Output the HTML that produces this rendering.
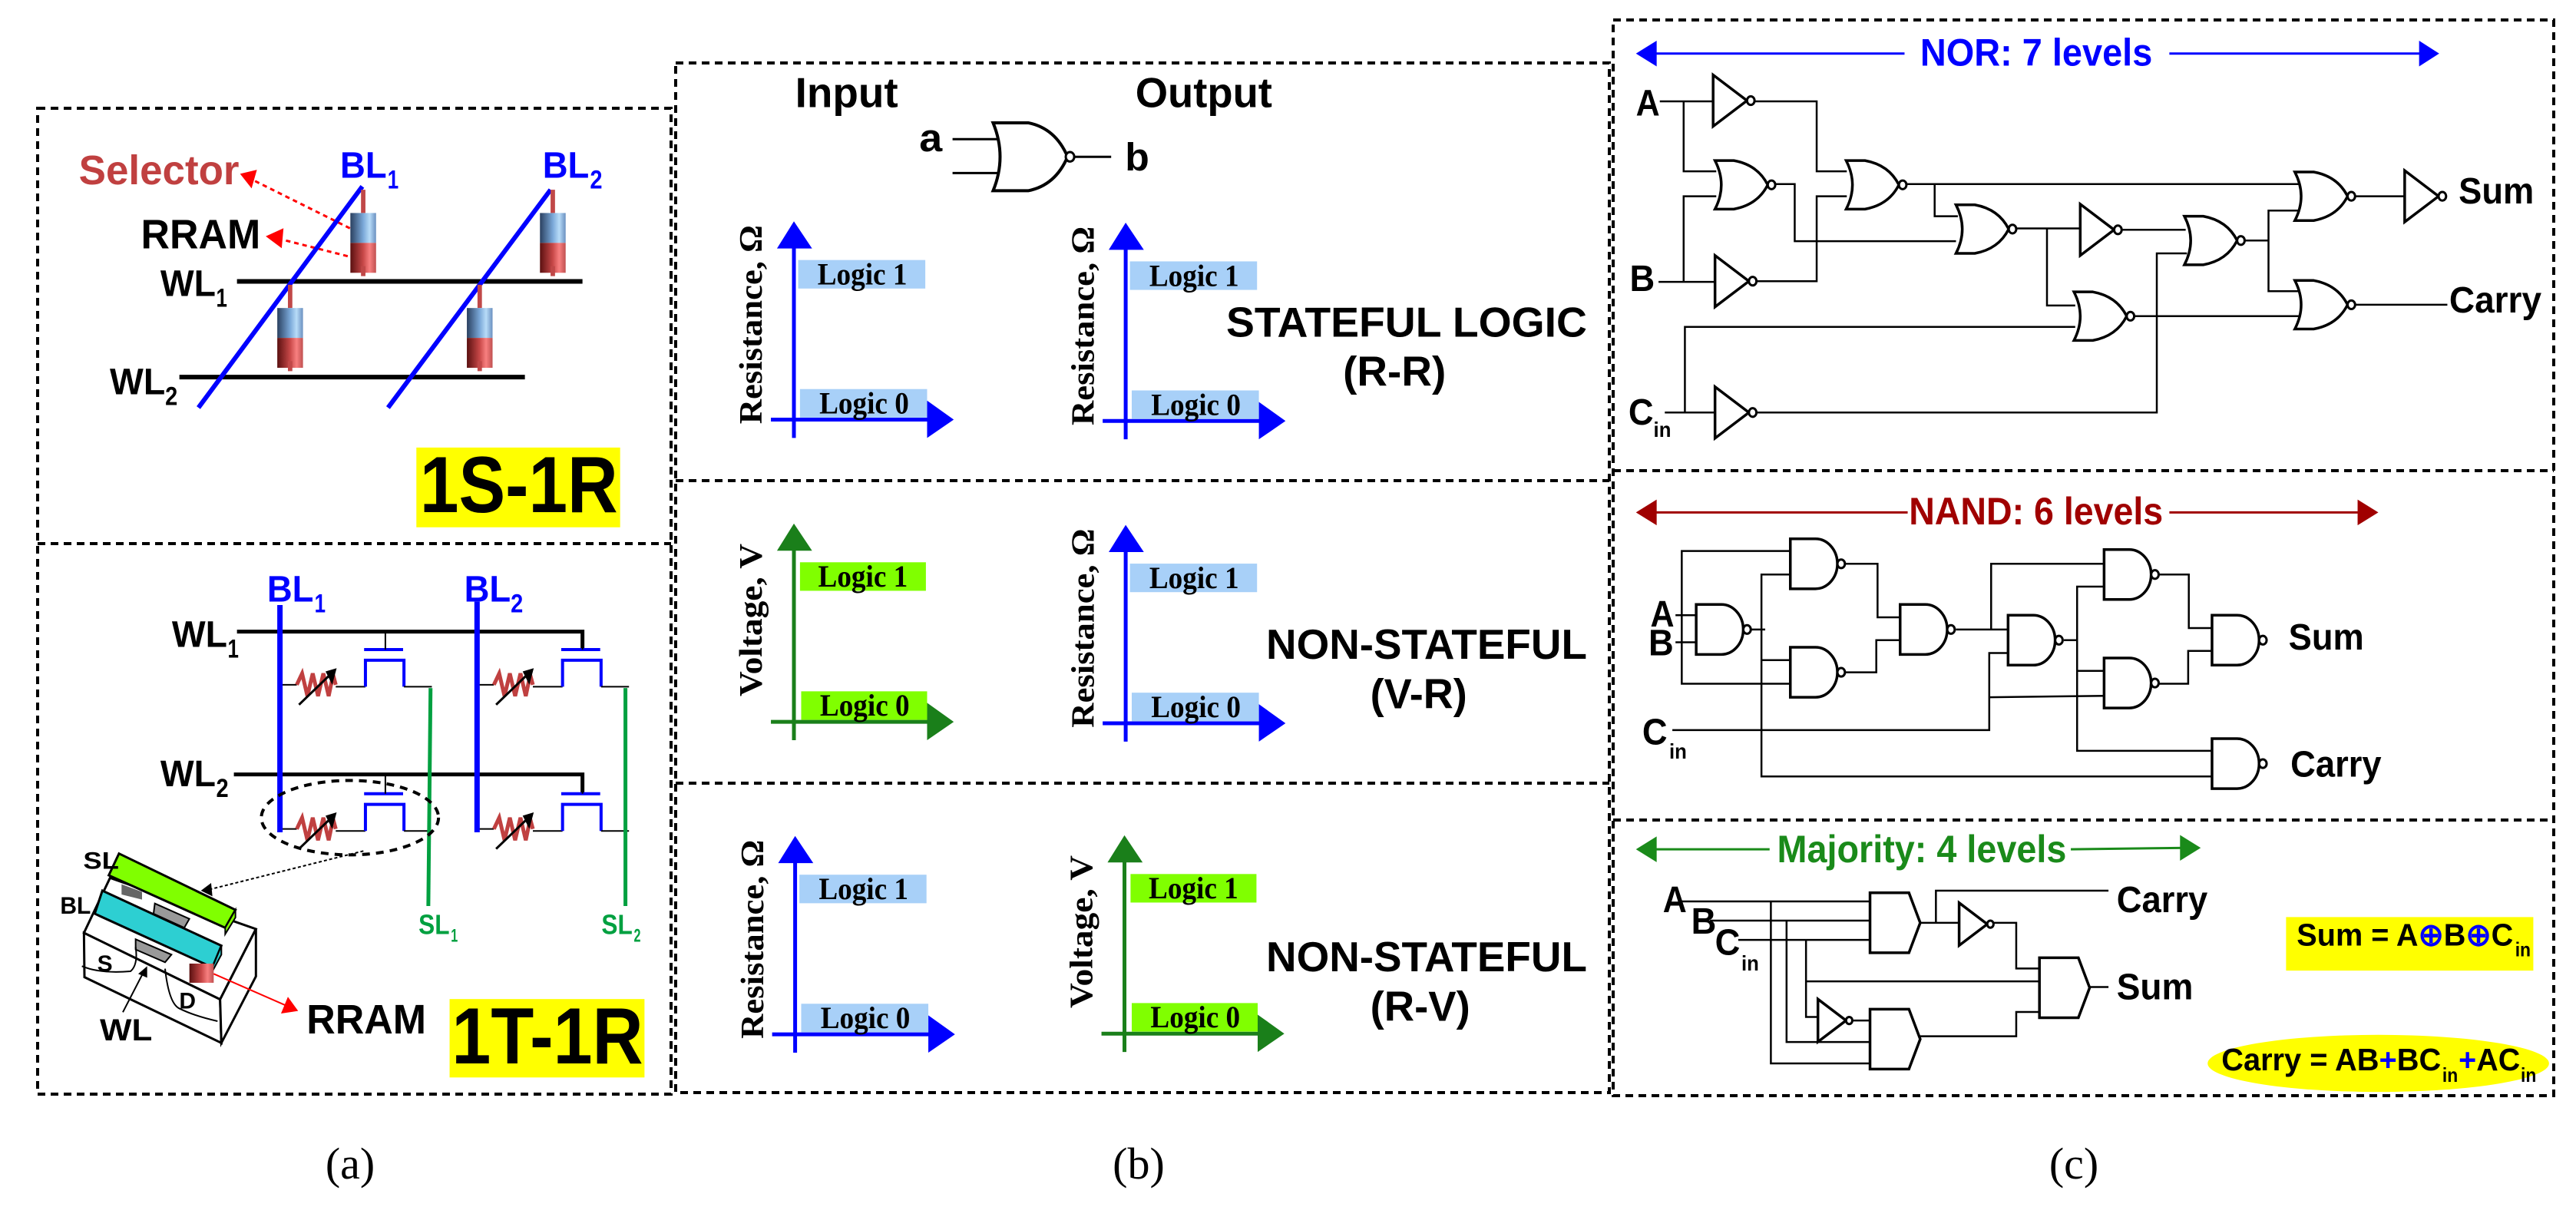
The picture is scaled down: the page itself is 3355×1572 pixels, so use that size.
<!DOCTYPE html>
<html><head><meta charset="utf-8"><style>
html,body{margin:0;padding:0;background:#fff}
svg{display:block}
svg line,svg path,svg polyline,svg polygon,svg rect,svg circle,svg ellipse{vector-effect:non-scaling-stroke}
.s{font-family:"Liberation Sans",sans-serif;font-weight:bold}
.r{font-family:"Liberation Serif",serif;font-weight:bold}
</style></head><body>
<svg width="3355" height="1572" viewBox="0 0 3355 1572" xmlns="http://www.w3.org/2000/svg">
<defs>
<linearGradient id="gb" x1="0" x2="1"><stop offset="0" stop-color="#2a4060"/><stop offset="0.5" stop-color="#7aa8d8"/><stop offset="0.75" stop-color="#b8dcf8"/><stop offset="1" stop-color="#6a90c0"/></linearGradient>
<linearGradient id="gr" x1="0" x2="1"><stop offset="0" stop-color="#5a1010"/><stop offset="0.5" stop-color="#c84848"/><stop offset="0.75" stop-color="#f88080"/><stop offset="1" stop-color="#c05050"/></linearGradient>
<g id="nor"><path d="M0,0 Q20,34 0,68 L30,68 Q68,62 84,34 Q68,6 30,0 Z" fill="#fff" stroke="#000" stroke-width="3.5"/><circle cx="90" cy="34" r="6" fill="#fff" stroke="#000" stroke-width="3"/></g>
<g id="not"><path d="M0,0 L0,72 L54,36 Z" fill="#fff" stroke="#000" stroke-width="3.5"/><circle cx="60" cy="36" r="6" fill="#fff" stroke="#000" stroke-width="3"/></g>
<g id="nand"><path d="M0,0 L40,0 A35,35 0 0 1 40,70 L0,70 Z" fill="#fff" stroke="#000" stroke-width="3.5"/><circle cx="81" cy="35" r="6" fill="#fff" stroke="#000" stroke-width="3"/></g>
<g id="maj"><path d="M0,0 L62,0 L80,42 L62,84 L0,84 Z" fill="#fff" stroke="#000" stroke-width="3.5"/></g>
<g id="cyl"><rect x="-5" y="-35" width="10" height="35" fill="#c04848"/><rect x="-29" y="0" width="58" height="45" fill="url(#gb)"/><rect x="-29" y="45" width="58" height="45" fill="url(#gr)"/><rect x="-5" y="80" width="10" height="15" fill="#c04848"/></g>
</defs>

<!-- borders -->
<g fill="none" stroke="#000" stroke-width="4" stroke-dasharray="10,7">
<rect x="49" y="141" width="825" height="1284"/>
<line x1="49" y1="708" x2="874" y2="708"/>
<rect x="880" y="82" width="1216" height="1341"/>
<line x1="880" y1="626" x2="2096" y2="626"/>
<line x1="880" y1="1020" x2="2096" y2="1020"/>
<rect x="2101" y="26" width="1225" height="1401"/>
<line x1="2101" y1="613" x2="3326" y2="613"/>
<line x1="2101" y1="1068" x2="3326" y2="1068"/>
</g>

<!-- PANEL A -->
<g transform="translate(0,100) scale(0.5769,0.8654)">
<text x="178" y="162" class="s" font-size="62" fill="#c04040" textLength="362" lengthAdjust="spacingAndGlyphs">Selector</text>
<text x="318" y="258" class="s" font-size="62" fill="#000" textLength="270" lengthAdjust="spacingAndGlyphs">RRAM</text>
<g fill="none" stroke="#f00" stroke-width="3" stroke-dasharray="6,5"><line x1="790" y1="228" x2="570" y2="155"/><line x1="785" y1="270" x2="625" y2="243"/></g>
<polygon points="542,146 580,140 568,168" fill="#f00"/><polygon points="600,240 640,228 636,258" fill="#f00"/>
<text x="768" y="152" class="s" font-size="56" fill="#00f" textLength="105" lengthAdjust="spacingAndGlyphs">BL</text><text x="875" y="168" class="s" font-size="40" fill="#00f" textLength="25" lengthAdjust="spacingAndGlyphs">1</text>
<text x="1225" y="152" class="s" font-size="56" fill="#00f" textLength="105" lengthAdjust="spacingAndGlyphs">BL</text><text x="1332" y="168" class="s" font-size="40" fill="#00f" textLength="28" lengthAdjust="spacingAndGlyphs">2</text>
<text x="362" y="330" class="s" font-size="56" textLength="125" lengthAdjust="spacingAndGlyphs">WL</text><text x="488" y="346" class="s" font-size="40" textLength="25" lengthAdjust="spacingAndGlyphs">1</text>
<text x="248" y="478" class="s" font-size="56" textLength="125" lengthAdjust="spacingAndGlyphs">WL</text><text x="373" y="494" class="s" font-size="40" textLength="28" lengthAdjust="spacingAndGlyphs">2</text>
<line x1="535" y1="308" x2="1315" y2="308" stroke="#000" stroke-width="6"/>
<line x1="405" y1="452" x2="1185" y2="452" stroke="#000" stroke-width="6"/>
<line x1="448" y1="498" x2="818" y2="165" stroke="#00f" stroke-width="6"/>
<line x1="876" y1="498" x2="1243" y2="170" stroke="#00f" stroke-width="6"/>
<use href="#cyl" transform="translate(820,205)"/><use href="#cyl" transform="translate(1248,205)"/>
<use href="#cyl" transform="translate(655,348)"/><use href="#cyl" transform="translate(1083,348)"/>
<rect x="940" y="558" width="460" height="120" fill="#ff0"/>
<text x="948" y="655" class="s" font-size="120" textLength="447" lengthAdjust="spacingAndGlyphs">1S-1R</text>

<text x="603" y="790" class="s" font-size="56" fill="#00f" textLength="105" lengthAdjust="spacingAndGlyphs">BL</text><text x="710" y="806" class="s" font-size="40" fill="#00f" textLength="25" lengthAdjust="spacingAndGlyphs">1</text>
<text x="1048" y="790" class="s" font-size="56" fill="#00f" textLength="105" lengthAdjust="spacingAndGlyphs">BL</text><text x="1153" y="806" class="s" font-size="40" fill="#00f" textLength="28" lengthAdjust="spacingAndGlyphs">2</text>
<text x="388" y="858" class="s" font-size="56" textLength="125" lengthAdjust="spacingAndGlyphs">WL</text><text x="514" y="874" class="s" font-size="40" textLength="25" lengthAdjust="spacingAndGlyphs">1</text>
<text x="362" y="1068" class="s" font-size="56" textLength="125" lengthAdjust="spacingAndGlyphs">WL</text><text x="488" y="1084" class="s" font-size="40" textLength="28" lengthAdjust="spacingAndGlyphs">2</text>
<polyline points="535,835 1315,835 1315,862" fill="none" stroke="#000" stroke-width="5"/>
<polyline points="528,1050 1315,1050 1315,1080" fill="none" stroke="#000" stroke-width="5"/>
<g id="cell">
<polyline points="632,915 670,915" fill="none" stroke="#000" stroke-width="2"/>
<polyline points="670,915 682,898 694,932 706,898 718,932 730,898 742,932 752,900 758,915" fill="none" stroke="#c04040" stroke-width="5"/>
<line x1="758" y1="918" x2="825" y2="918" stroke="#000" stroke-width="2"/>
<polyline points="825,918 825,878 912,878 912,918" fill="none" stroke="#00f" stroke-width="4"/>
<line x1="822" y1="862" x2="910" y2="862" stroke="#00f" stroke-width="4"/>
<line x1="870" y1="862" x2="870" y2="835" stroke="#000" stroke-width="2"/>
<line x1="912" y1="918" x2="975" y2="918" stroke="#000" stroke-width="2"/>
<line x1="675" y1="945" x2="745" y2="900" stroke="#000" stroke-width="3"/>
<polygon points="760,890 735,895 750,915" fill="#000"/>
</g>
<use href="#cell" transform="translate(0,217)"/>
<use href="#cell" transform="translate(445,0)"/>
<use href="#cell" transform="translate(445,217)"/>
<line x1="632" y1="795" x2="632" y2="1137" stroke="#00f" stroke-width="7"/>
<line x1="1077" y1="790" x2="1077" y2="1137" stroke="#00f" stroke-width="7"/>
<line x1="972" y1="920" x2="967" y2="1248" stroke="#00a040" stroke-width="5"/>
<line x1="1412" y1="920" x2="1412" y2="1248" stroke="#00a040" stroke-width="5"/>
<text x="945" y="1290" class="s" font-size="42" fill="#00a040" textLength="70" lengthAdjust="spacingAndGlyphs">SL</text><text x="1018" y="1302" class="s" font-size="28" fill="#00a040">1</text>
<text x="1358" y="1290" class="s" font-size="42" fill="#00a040" textLength="70" lengthAdjust="spacingAndGlyphs">SL</text><text x="1431" y="1302" class="s" font-size="28" fill="#00a040">2</text>
<ellipse cx="790" cy="1115" rx="200" ry="56" fill="none" stroke="#000" stroke-width="4" stroke-dasharray="10,8"/>
<text x="692" y="1440" class="s" font-size="62" textLength="270" lengthAdjust="spacingAndGlyphs">RRAM</text>
<rect x="1015" y="1388" width="440" height="118" fill="#ff0"/>
<text x="1020" y="1485" class="s" font-size="120" textLength="432" lengthAdjust="spacingAndGlyphs">1T-1R</text>
</g>

<!-- 3D device -->
<g transform="translate(80,1080) scale(0.3333)">
<polygon points="88,405 190,190 760,390 620,665" fill="#fff" stroke="#000" stroke-width="3"/>
<polygon points="88,405 620,665 625,835 90,578" fill="#fff" stroke="#000" stroke-width="3"/>
<polygon points="620,665 760,390 760,575 625,835" fill="#fff" stroke="#000" stroke-width="3"/>
<polygon points="235,215 315,245 315,275 235,255" fill="#666"/>
<polygon points="365,290 500,350 480,385 360,330" fill="#999" stroke="#000" stroke-width="2"/>
<polygon points="290,430 430,490 405,520 290,470" fill="#999" stroke="#000" stroke-width="2"/>
<polygon points="225,95 680,315 640,385 185,180" fill="#80ff00" stroke="#000" stroke-width="3"/>
<polygon points="680,315 680,345 640,410 640,385" fill="#80ff00" stroke="#000" stroke-width="2"/>
<polygon points="160,240 625,455 590,540 130,330" fill="#2dcfd2" stroke="#000" stroke-width="3"/>
<polygon points="625,455 625,490 590,555 590,540" fill="#2dcfd2" stroke="#000" stroke-width="2"/>
<path d="M80,535 Q150,565 270,555 Q300,530 290,460" fill="none" stroke="#000" stroke-width="2"/>
<path d="M405,545 Q420,680 460,700 Q520,730 610,750" fill="none" stroke="#000" stroke-width="2"/>
<rect x="500" y="525" width="95" height="75" fill="url(#gr)"/>
<line x1="240" y1="715" x2="320" y2="560" stroke="#000" stroke-width="2"/><polygon points="335,535 300,565 335,580" fill="#000"/>
<line x1="595" y1="565" x2="880" y2="690" stroke="#f00" stroke-width="2"/><polygon points="925,710 858,720 885,655" fill="#f00"/>
<line x1="1180" y1="85" x2="580" y2="235" stroke="#000" stroke-width="2" stroke-dasharray="4,3"/><polygon points="545,240 585,210 590,262" fill="#000"/>
<text x="85" y="155" class="s" font-size="95" textLength="140" lengthAdjust="spacingAndGlyphs">SL</text>
<text x="-5" y="330" class="s" font-size="95" textLength="120" lengthAdjust="spacingAndGlyphs">BL</text>
<text x="140" y="555" class="s" font-size="90">S</text>
<text x="460" y="700" class="s" font-size="90">D</text>
<text x="150" y="825" class="s" font-size="120" textLength="205" lengthAdjust="spacingAndGlyphs">WL</text>
</g>

<!-- PANEL B -->
<g transform="translate(870,60) scale(0.7885,0.8846)">
<text x="210" y="90" class="s" font-size="62" textLength="170" lengthAdjust="spacingAndGlyphs">Input</text>
<text x="772" y="90" class="s" font-size="62" textLength="226" lengthAdjust="spacingAndGlyphs">Output</text>
<line x1="470" y1="137" x2="545" y2="137" stroke="#000" stroke-width="3"/>
<line x1="470" y1="187" x2="545" y2="187" stroke="#000" stroke-width="3"/>
<path d="M537,113 Q560,163 537,213 L595,213 Q640,205 660,163 Q640,121 595,113 Z" fill="#fff" stroke="#000" stroke-width="4"/>
<circle cx="664" cy="163" r="7" fill="#fff" stroke="#000" stroke-width="3"/>
<line x1="671" y1="163" x2="732" y2="163" stroke="#000" stroke-width="3"/>
<text x="415" y="155" class="s" font-size="58" textLength="38" lengthAdjust="spacingAndGlyphs">a</text><text x="755" y="183" class="s" font-size="58" textLength="40" lengthAdjust="spacingAndGlyphs">b</text>

<g id="chB">
<line x1="208" y1="577" x2="208" y2="295" stroke="#00f" stroke-width="5"/>
<polygon points="180,298 208,258 238,298" fill="#00f"/>
<line x1="170" y1="550" x2="430" y2="550" stroke="#00f" stroke-width="5"/>
<polygon points="428,522 472,550 428,577" fill="#00f"/>
<rect x="215" y="315" width="210" height="42" fill="#a8d0f8"/>
<text x="247" y="351" class="r" font-size="46" textLength="148" lengthAdjust="spacingAndGlyphs">Logic 1</text>
<rect x="218" y="505" width="210" height="42" fill="#a8d0f8"/>
<text x="250" y="541" class="r" font-size="46" textLength="148" lengthAdjust="spacingAndGlyphs">Logic 0</text>
<text transform="translate(155,410) rotate(-90)" class="r" font-size="54" text-anchor="middle" textLength="293" lengthAdjust="spacingAndGlyphs">Resistance, Ω</text>
</g>
<use href="#chB" transform="translate(548,2)"/>
<use href="#chB" transform="translate(548,447)"/>
<use href="#chB" transform="translate(2,905)"/>
<g id="chG" transform="translate(0,445)">
<line x1="208" y1="577" x2="208" y2="295" stroke="#1a7f1a" stroke-width="5"/>
<polygon points="180,298 208,258 238,298" fill="#1a7f1a"/>
<line x1="170" y1="550" x2="430" y2="550" stroke="#1a7f1a" stroke-width="5"/>
<polygon points="428,522 472,550 428,577" fill="#1a7f1a"/>
<rect x="218" y="315" width="208" height="42" fill="#80ff00"/>
<text x="248" y="351" class="r" font-size="46" textLength="148" lengthAdjust="spacingAndGlyphs">Logic 1</text>
<rect x="220" y="505" width="208" height="42" fill="#80ff00"/>
<text x="251" y="541" class="r" font-size="46" textLength="148" lengthAdjust="spacingAndGlyphs">Logic 0</text>
<text transform="translate(155,400) rotate(-90)" class="r" font-size="54" text-anchor="middle" textLength="225" lengthAdjust="spacingAndGlyphs">Voltage, V</text>
</g>
<use href="#chG" transform="translate(546,459)"/>
<text x="922" y="428" class="s" font-size="62" textLength="596" lengthAdjust="spacingAndGlyphs">STATEFUL LOGIC</text>
<text x="1115" y="500" class="s" font-size="62" textLength="170" lengthAdjust="spacingAndGlyphs">(R-R)</text>
<text x="988" y="902" class="s" font-size="62" textLength="530" lengthAdjust="spacingAndGlyphs">NON-STATEFUL</text>
<text x="1160" y="975" class="s" font-size="62" textLength="160" lengthAdjust="spacingAndGlyphs">(V-R)</text>
<text x="988" y="1362" class="s" font-size="62" textLength="530" lengthAdjust="spacingAndGlyphs">NON-STATEFUL</text>
<text x="1160" y="1435" class="s" font-size="62" textLength="165" lengthAdjust="spacingAndGlyphs">(R-V)</text>
</g>

<!-- PANEL C -->
<g transform="translate(2080,0) scale(0.8173,0.9295)">
<g fill="none" stroke="#000" stroke-width="2.5">
<polyline points="100,142 185,142"/><polyline points="250,142 350,142 350,240 398,240"/>
<polyline points="138,142 138,240 190,240"/><polyline points="138,395 138,275 190,275"/>
<polyline points="98,395 188,395"/><polyline points="250,394 350,394 350,275 398,275"/>
<polyline points="285,258 315,258 315,338 572,338"/>
<polyline points="492,258 1118,258"/><polyline points="538,258 538,303 575,303"/>
<polyline points="667,320 770,320"/><polyline points="717,320 717,428 762,428"/>
<polyline points="833,322 938,322"/>
<polyline points="108,578 188,578"/><polyline points="140,578 140,458 762,458"/>
<polyline points="252,578 892,578 892,355 940,355"/>
<polyline points="855,443 1118,443"/>
<polyline points="1032,337 1070,337"/><polyline points="1118,295 1070,295 1070,408 1118,408"/>
<polyline points="1206,275 1287,275"/><polyline points="1206,427 1355,427"/>
<polyline points="125,862 160,862"/><polyline points="125,900 160,900"/>
<polyline points="310,772 135,772 135,958 310,958"/>
<polyline points="244,882 268,882"/>
<polyline points="310,805 262,805 262,1088 982,1088"/><polyline points="262,925 310,925"/>
<polyline points="396,790 447,790 447,865 485,865"/><polyline points="396,942 445,942 445,897 485,897"/>
<polyline points="572,882 657,882"/><polyline points="628,882 628,790 810,790"/>
<polyline points="120,1023 625,1023 625,915 657,915"/><polyline points="625,977 810,975"/>
<polyline points="744,897 765,897"/><polyline points="810,822 765,822 765,1052 982,1052"/><polyline points="765,940 810,940"/>
<polyline points="892,805 943,805 943,880 982,880"/><polyline points="892,958 942,958 942,912 982,912"/>
<polyline points="135,1263 437,1263"/><polyline points="180,1290 437,1290"/><polyline points="225,1317 437,1317"/>
<polyline points="277,1263 277,1490 437,1490"/><polyline points="302,1290 302,1460 437,1460"/>
<polyline points="333,1317 333,1425 352,1425"/><polyline points="333,1375 707,1375"/>
<polyline points="515,1293 577,1293"/><polyline points="540,1293 540,1248 815,1248"/>
<polyline points="630,1293 668,1293 668,1357 707,1357"/>
<polyline points="404,1430 437,1430"/><polyline points="515,1452 668,1452 668,1418 707,1418"/>
<polyline points="782,1383 815,1383"/>
</g>
<use href="#not" transform="translate(185,105)"/>
<use href="#nor" transform="translate(188,225)"/>
<use href="#not" transform="translate(188,358)"/>
<use href="#nor" transform="translate(397,225)"/>
<use href="#nor" transform="translate(572,287)"/>
<use href="#not" transform="translate(770,286)"/>
<use href="#nor" transform="translate(760,409)"/>
<use href="#not" transform="translate(188,542)"/>
<use href="#nor" transform="translate(936,303)"/>
<use href="#nor" transform="translate(1112,241)"/>
<use href="#not" transform="translate(1287,239)"/>
<use href="#nor" transform="translate(1112,393)"/>
<use href="#nand" transform="translate(158,847)"/>
<use href="#nand" transform="translate(308,755)"/>
<use href="#nand" transform="translate(308,907)"/>
<use href="#nand" transform="translate(483,847)"/>
<use href="#nand" transform="translate(655,862)"/>
<use href="#nand" transform="translate(808,770)"/>
<use href="#nand" transform="translate(808,922)"/>
<use href="#nand" transform="translate(980,862)"/>
<use href="#nand" transform="translate(980,1035)"/>
<use href="#maj" transform="translate(435,1251)"/>
<use href="#maj" transform="translate(435,1414)"/>
<use href="#maj" transform="translate(705,1342)"/>
<g transform="translate(577,1265) scale(0.83,0.83)"><use href="#not"/></g>
<g transform="translate(352,1400) scale(0.83,0.83)"><use href="#not"/></g>

<line x1="80" y1="75" x2="490" y2="75" stroke="#00f" stroke-width="3"/><polygon points="62,75 95,57 95,93" fill="#00f"/>
<line x1="912" y1="75" x2="1320" y2="75" stroke="#00f" stroke-width="3"/><polygon points="1342,75 1310,57 1310,93" fill="#00f"/>
<text x="515" y="92" class="s" font-size="54" fill="#00f" textLength="370" lengthAdjust="spacingAndGlyphs">NOR: 7 levels</text>
<line x1="80" y1="718" x2="495" y2="718" stroke="#a00000" stroke-width="3"/><polygon points="62,718 95,700 95,736" fill="#a00000"/>
<line x1="912" y1="718" x2="1225" y2="718" stroke="#a00000" stroke-width="3"/><polygon points="1245,718 1212,700 1212,736" fill="#a00000"/>
<text x="497" y="735" class="s" font-size="54" fill="#a00000" textLength="405" lengthAdjust="spacingAndGlyphs">NAND: 6 levels</text>
<line x1="80" y1="1190" x2="275" y2="1190" stroke="#1a8a1a" stroke-width="3"/><polygon points="62,1190 95,1172 95,1208" fill="#1a8a1a"/>
<line x1="755" y1="1190" x2="940" y2="1188" stroke="#1a8a1a" stroke-width="3"/><polygon points="962,1188 929,1170 929,1206" fill="#1a8a1a"/>
<text x="287" y="1208" class="s" font-size="54" fill="#1a8a1a" textLength="461" lengthAdjust="spacingAndGlyphs">Majority: 4 levels</text>

<g class="s" font-size="52">
<text x="62" y="162" textLength="38" lengthAdjust="spacingAndGlyphs">A</text><text x="52" y="408" textLength="40" lengthAdjust="spacingAndGlyphs">B</text><text x="50" y="595" textLength="40" lengthAdjust="spacingAndGlyphs">C</text><text x="90" y="612" font-size="30" textLength="28" lengthAdjust="spacingAndGlyphs">in</text>
<text x="1373" y="285" textLength="120" lengthAdjust="spacingAndGlyphs">Sum</text><text x="1358" y="438" textLength="147" lengthAdjust="spacingAndGlyphs">Carry</text>
<text x="85" y="878" textLength="38" lengthAdjust="spacingAndGlyphs">A</text><text x="82" y="918" textLength="40" lengthAdjust="spacingAndGlyphs">B</text><text x="72" y="1043" textLength="40" lengthAdjust="spacingAndGlyphs">C</text><text x="115" y="1063" font-size="30" textLength="28" lengthAdjust="spacingAndGlyphs">in</text>
<text x="1102" y="910" textLength="120" lengthAdjust="spacingAndGlyphs">Sum</text><text x="1105" y="1088" textLength="145" lengthAdjust="spacingAndGlyphs">Carry</text>
<text x="105" y="1278" textLength="38" lengthAdjust="spacingAndGlyphs">A</text><text x="150" y="1308" textLength="40" lengthAdjust="spacingAndGlyphs">B</text><text x="188" y="1338" textLength="40" lengthAdjust="spacingAndGlyphs">C</text><text x="230" y="1360" font-size="30" textLength="28" lengthAdjust="spacingAndGlyphs">in</text>
<text x="828" y="1278" textLength="145" lengthAdjust="spacingAndGlyphs">Carry</text><text x="828" y="1400" textLength="122" lengthAdjust="spacingAndGlyphs">Sum</text>
</g>
<rect x="1098" y="1285" width="394" height="75" fill="#ff0"/>
<text x="1115" y="1325" class="s" font-size="44" textLength="345" lengthAdjust="spacingAndGlyphs">Sum = A<tspan fill="#00f">⊕</tspan>B<tspan fill="#00f">⊕</tspan>C</text><text x="1463" y="1340" class="s" font-size="28">in</text>
<ellipse cx="1245" cy="1490" rx="272" ry="40" fill="#ff0"/>
<text x="995" y="1500" class="s" font-size="44" textLength="350" lengthAdjust="spacingAndGlyphs">Carry = AB<tspan fill="#00f">+</tspan>BC</text>
<text x="1347" y="1516" class="s" font-size="28">in</text>
<text x="1373" y="1500" class="s" font-size="44" textLength="98" lengthAdjust="spacingAndGlyphs"><tspan fill="#00f">+</tspan>AC</text>
<text x="1472" y="1516" class="s" font-size="28">in</text>
</g>

<g font-family="Liberation Serif, serif" font-size="58" text-anchor="middle">
<text x="456" y="1535">(a)</text><text x="1483" y="1535">(b)</text><text x="2701" y="1535">(c)</text>
</g>
</svg>
</body></html>
